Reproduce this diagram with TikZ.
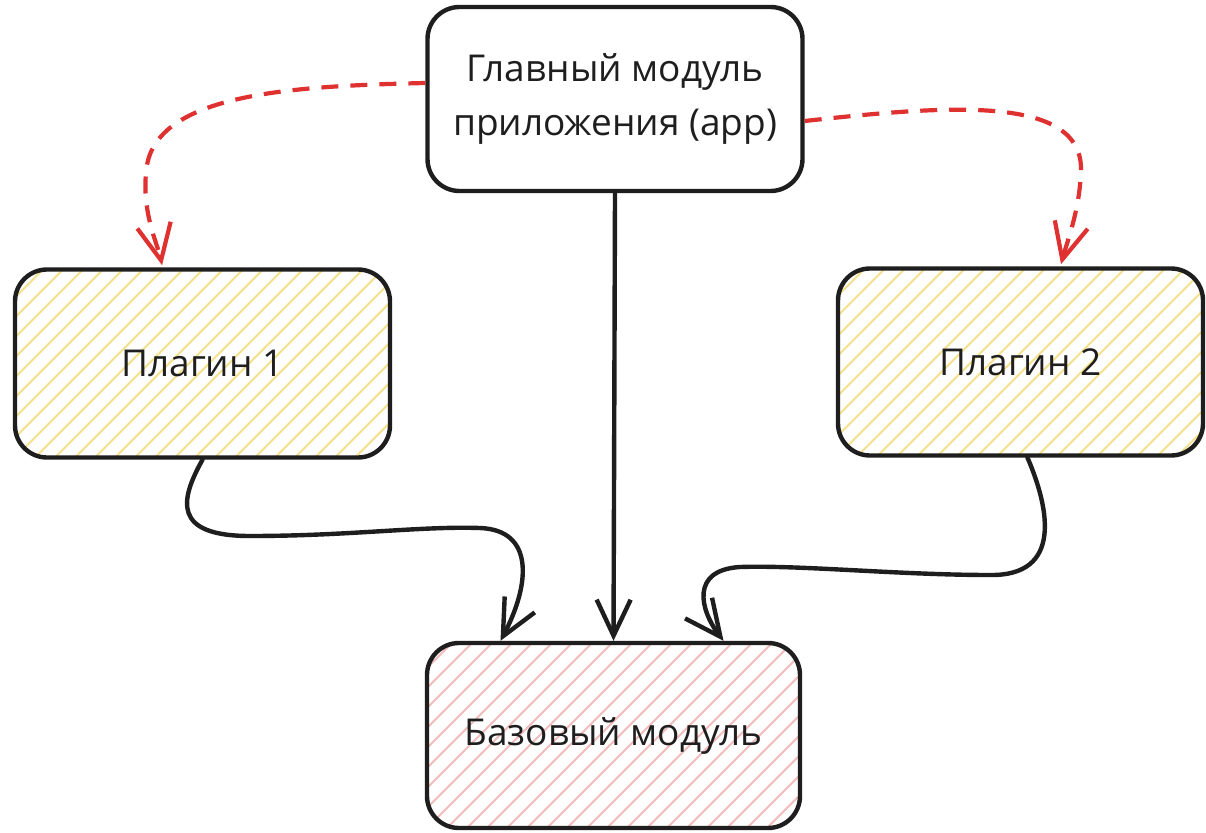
\documentclass[tikz,border=0pt]{standalone}
\usepackage{fontspec}
\setmainfont{Open Sans}
\usetikzlibrary{arrows.meta}
\definecolor{ink}{HTML}{1E1E1E}
\definecolor{redline}{HTML}{E03131}
\definecolor{hatchyellow}{HTML}{F5E08A}
\definecolor{hatchpink}{HTML}{F4BCBC}
\tikzset{
  card/.style={draw=ink, line width=4.4pt, rounded corners=32pt, align=center,
    text=ink, font=\fontsize{37}{54}\selectfont, inner sep=0pt},
  hatched/.style={path picture={
    \foreach \i in {-220,-200,...,420}
      \draw[#1, line width=2pt]
        ([xshift=\i pt]path picture bounding box.south west) -- ++(320pt,320pt);
  }},
  flow/.style={draw=ink, line width=4.4pt, line cap=round,
    -{Straight Barb[length=36pt, width=34pt, line width=4.4pt]}},
  plugflow/.style={draw=redline, line width=4.2pt, dash pattern=on 17pt off 12pt,
    -{Straight Barb[length=36pt, width=34pt, line width=4.2pt, sep]}},
}
\begin{document}
\begin{tikzpicture}[x=1pt, y=-1pt]
  \useasboundingbox (0,0) rectangle (1206,832);
  \fill[white] (0,0) rectangle (1206,832);

  % modules
  \node[card, minimum width=375pt, minimum height=184pt] (top) at (615,99)
    {Главный модуль\\приложения (app)};
  \node[card, hatched=hatchyellow, minimum width=375pt, minimum height=188pt] (p1)
    at (202.5,363.5) {Плагин 1};
  \node[card, hatched=hatchyellow, minimum width=365pt, minimum height=187pt] (p2)
    at (1020.5,362) {Плагин 2};
  \node[card, hatched=hatchpink, minimum width=373pt, minimum height=185pt] (base)
    at (613.5,735.5) {Базовый модуль};

  % dashed links from the main module to the plugins
  \draw[plugflow] ([yshift=16pt]top.west)
    .. controls (300,86) and (160,92) .. (147,165)
    .. controls (140,210) and (158,245) .. ([xshift=-40pt]p1.north);
  \draw[plugflow] ([yshift=-22pt]top.east)
    .. controls (950,105) and (1082,95) .. (1081,170)
    .. controls (1080,210) and (1066,245) .. ([xshift=40pt]p2.north);

  % dependencies on the base module
  \draw[flow] (top.south) -- (base.north);
  \draw[flow] (p1.south)
    .. controls (180,500) and (172,536) .. (250,536)
    .. controls (350,536) and (420,526) .. (480,528)
    .. controls (535,530) and (530,585) .. ([xshift=-113pt]base.north);
  \draw[flow] ([xshift=7pt]p2.south)
    .. controls (1050,510) and (1062,576) .. (990,575)
    .. controls (900,575) and (800,565) .. (740,567)
    .. controls (690,570) and (700,610) .. ([xshift=110pt]base.north);
\end{tikzpicture}
\end{document}
